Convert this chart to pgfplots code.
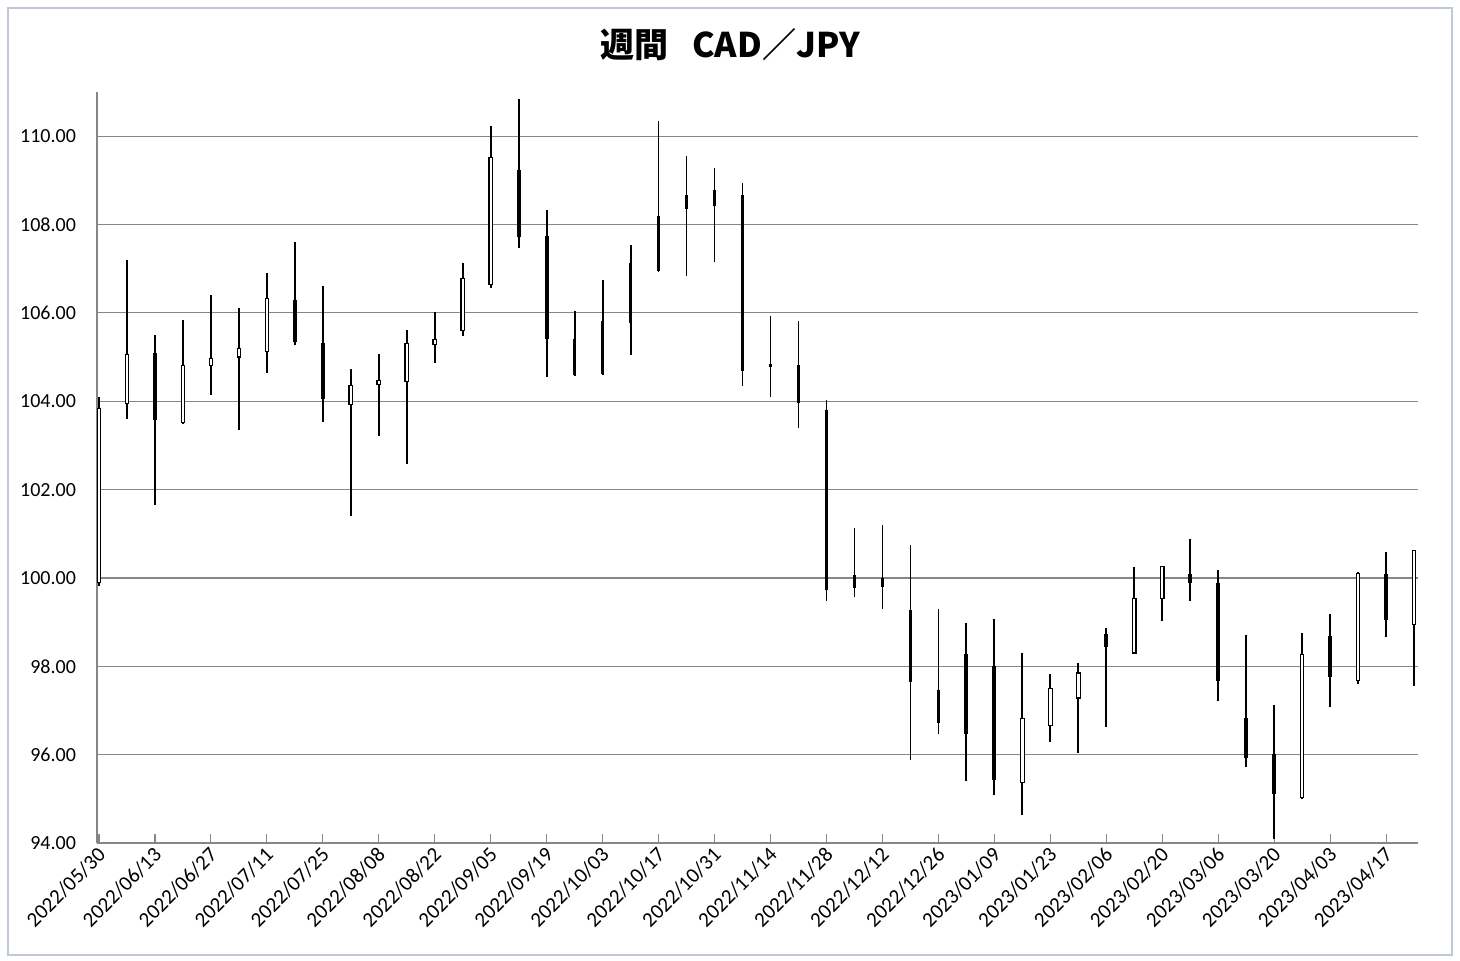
\documentclass[border=0pt]{standalone}
\usepackage{pgfplots}
\pgfplotsset{compat=1.18}
\usepackage{pgfplotstable}
\usepackage{fontspec}
\setmainfont{Carlito}
\newfontfamily\cjk{Noto Sans CJK JP}

\definecolor{gridgray}{RGB}{134,134,134}
\definecolor{framecol}{RGB}{190,200,214}

% i = week index, o/h/l/c = open/high/low/close,
% f = 1 hollow (white) body, 0 filled body, 2 thin filled body
\pgfplotstableread{
i o h l c f
0 99.88 104.09 99.82 103.84 1
1 103.93 107.19 103.61 105.08 1
2 105.10 105.50 101.65 103.57 0
3 103.51 105.84 103.48 104.83 1
4 104.80 106.40 104.14 104.98 1
5 104.99 106.12 103.35 105.20 1
6 105.12 106.91 104.63 106.33 1
7 106.29 107.61 105.27 105.35 0
8 105.33 106.61 103.53 104.05 0
9 103.91 104.72 101.41 104.36 1
10 104.36 105.06 103.22 104.49 1
11 104.44 105.61 102.59 105.33 1
12 105.28 106.01 104.87 105.42 1
13 105.58 107.14 105.48 106.80 1
14 106.64 110.23 106.57 109.52 1
15 109.23 110.85 107.48 107.72 0
16 107.74 108.33 104.55 105.42 0
17 105.41 106.04 104.57 104.59 2
18 105.81 106.74 104.60 104.61 2
19 107.14 107.53 105.04 105.76 2
20 108.19 110.34 106.93 106.94 2
21 108.66 109.55 106.84 108.35 2
22 108.78 109.27 107.16 108.42 2
23 108.66 108.95 104.35 104.69 0
24 104.84 105.93 104.09 104.77 2
25 104.82 105.81 103.40 103.97 2
26 103.81 104.03 99.48 99.73 0
27 100.07 101.12 99.57 99.78 2
28 99.99 101.20 99.29 99.79 2
29 99.27 100.74 95.88 97.65 0
30 97.46 99.30 96.46 96.71 2
31 98.29 98.99 95.41 96.46 0
32 98.01 99.07 95.09 95.43 0
33 95.35 98.29 94.64 96.84 1
34 96.65 97.82 96.29 97.52 1
35 97.27 98.07 96.04 97.86 1
36 98.72 98.86 96.63 98.44 0
37 98.29 100.25 98.28 99.54 1
38 99.53 100.28 99.03 100.28 1
39 100.10 100.88 99.48 99.89 0
40 99.88 100.18 97.22 97.67 0
41 96.84 98.71 95.73 95.93 0
42 96.01 97.12 94.08 95.11 0
43 95.01 98.75 95.00 98.27 1
44 98.68 99.18 97.08 97.76 0
45 97.67 100.14 97.61 100.12 1
46 100.10 100.58 98.67 99.05 0
47 98.93 100.63 97.56 100.63 1
}\candles

\begin{document}
\begin{tikzpicture}
\useasboundingbox (0pt,0pt) rectangle (730pt,480pt);
\fill[white] (0pt,0pt) rectangle (730pt,480pt);
\draw[framecol, line width=0.6pt] (4pt,2.5pt) rectangle (726pt,476pt);
\node[font=\cjk\bfseries\fontsize{17}{20}\selectfont] at (365pt,457.5pt) {週間\hspace{12pt}CAD／JPY};
\begin{axis}[
  at={(48.5pt,58.5pt)}, anchor=south west,
  scale only axis, width=660.5pt, height=375.5pt,
  xmin=-0.07, xmax=47.14, ymin=94, ymax=111,
  clip=false,
  axis x line*=bottom, axis y line*=left,
  axis line style={gridgray, line width=0.6pt, -},
  ymajorgrids, grid style={gridgray, line width=0.6pt},
  ytick={94,96,...,110},
  ytick style={draw=none},
  /pgf/number format/assume math mode=true,
  yticklabel style={/pgf/number format/fixed, /pgf/number format/fixed zerofill,
    /pgf/number format/precision=2, font=\fontsize{10}{12}\selectfont, xshift=-7pt},
  xtick={0,2,...,46},
  xticklabels={2022/05/30,2022/06/13,2022/06/27,2022/07/11,2022/07/25,2022/08/08,2022/08/22,2022/09/05,2022/09/19,2022/10/03,2022/10/17,2022/10/31,2022/11/14,2022/11/28,2022/12/12,2022/12/26,2023/01/09,2023/01/23,2023/02/06,2023/02/20,2023/03/06,2023/03/20,2023/04/03,2023/04/17},
  xticklabel style={rotate=45, anchor=east, font=\fontsize{10.5}{12}\selectfont, yshift=-4pt, xshift=1.5pt},
  x tick style={gridgray, line width=0.6pt},
  tick align=inside, major tick length=4.5pt,
  unbounded coords=discard,
]
% wicks: high-low
\addplot[draw=none, mark=none, forget plot,
  error bars/.cd, y dir=both, y explicit, error mark=none,
  error bar style={draw=black, line width=0.9pt}]
  table[x=i, y expr={(\thisrow{h}+\thisrow{l})/2},
        y error expr={(\thisrow{h}-\thisrow{l})/2}] {\candles};
% hollow bodies: black outline
\addplot[draw=none, mark=none, forget plot,
  error bars/.cd, y dir=both, y explicit, error mark=none,
  error bar style={draw=black, line width=2.3pt}]
  table[x=i, y expr={\thisrow{f}==1 ? (\thisrow{o}+\thisrow{c})/2 : nan},
        y error expr={abs(\thisrow{c}-\thisrow{o})/2}] {\candles};
% hollow bodies: white interior
\addplot[draw=none, mark=none, forget plot,
  error bars/.cd, y dir=both, y explicit, error mark=none,
  error bar style={draw=white, line width=1.2pt}]
  table[x=i, y expr={\thisrow{f}==1 ? (\thisrow{o}+\thisrow{c})/2 : nan},
        y error expr={abs(\thisrow{c}-\thisrow{o})/2-0.025}] {\candles};
% filled bodies
\addplot[draw=none, mark=none, forget plot,
  error bars/.cd, y dir=both, y explicit, error mark=none,
  error bar style={draw=black, line width=1.9pt}]
  table[x=i, y expr={\thisrow{f}==0 ? (\thisrow{o}+\thisrow{c})/2 : nan},
        y error expr={abs(\thisrow{c}-\thisrow{o})/2}] {\candles};
% thin filled bodies
\addplot[draw=none, mark=none, forget plot,
  error bars/.cd, y dir=both, y explicit, error mark=none,
  error bar style={draw=black, line width=1.4pt}]
  table[x=i, y expr={\thisrow{f}==2 ? (\thisrow{o}+\thisrow{c})/2 : nan},
        y error expr={abs(\thisrow{c}-\thisrow{o})/2}] {\candles};
\end{axis}
\end{tikzpicture}
\end{document}
